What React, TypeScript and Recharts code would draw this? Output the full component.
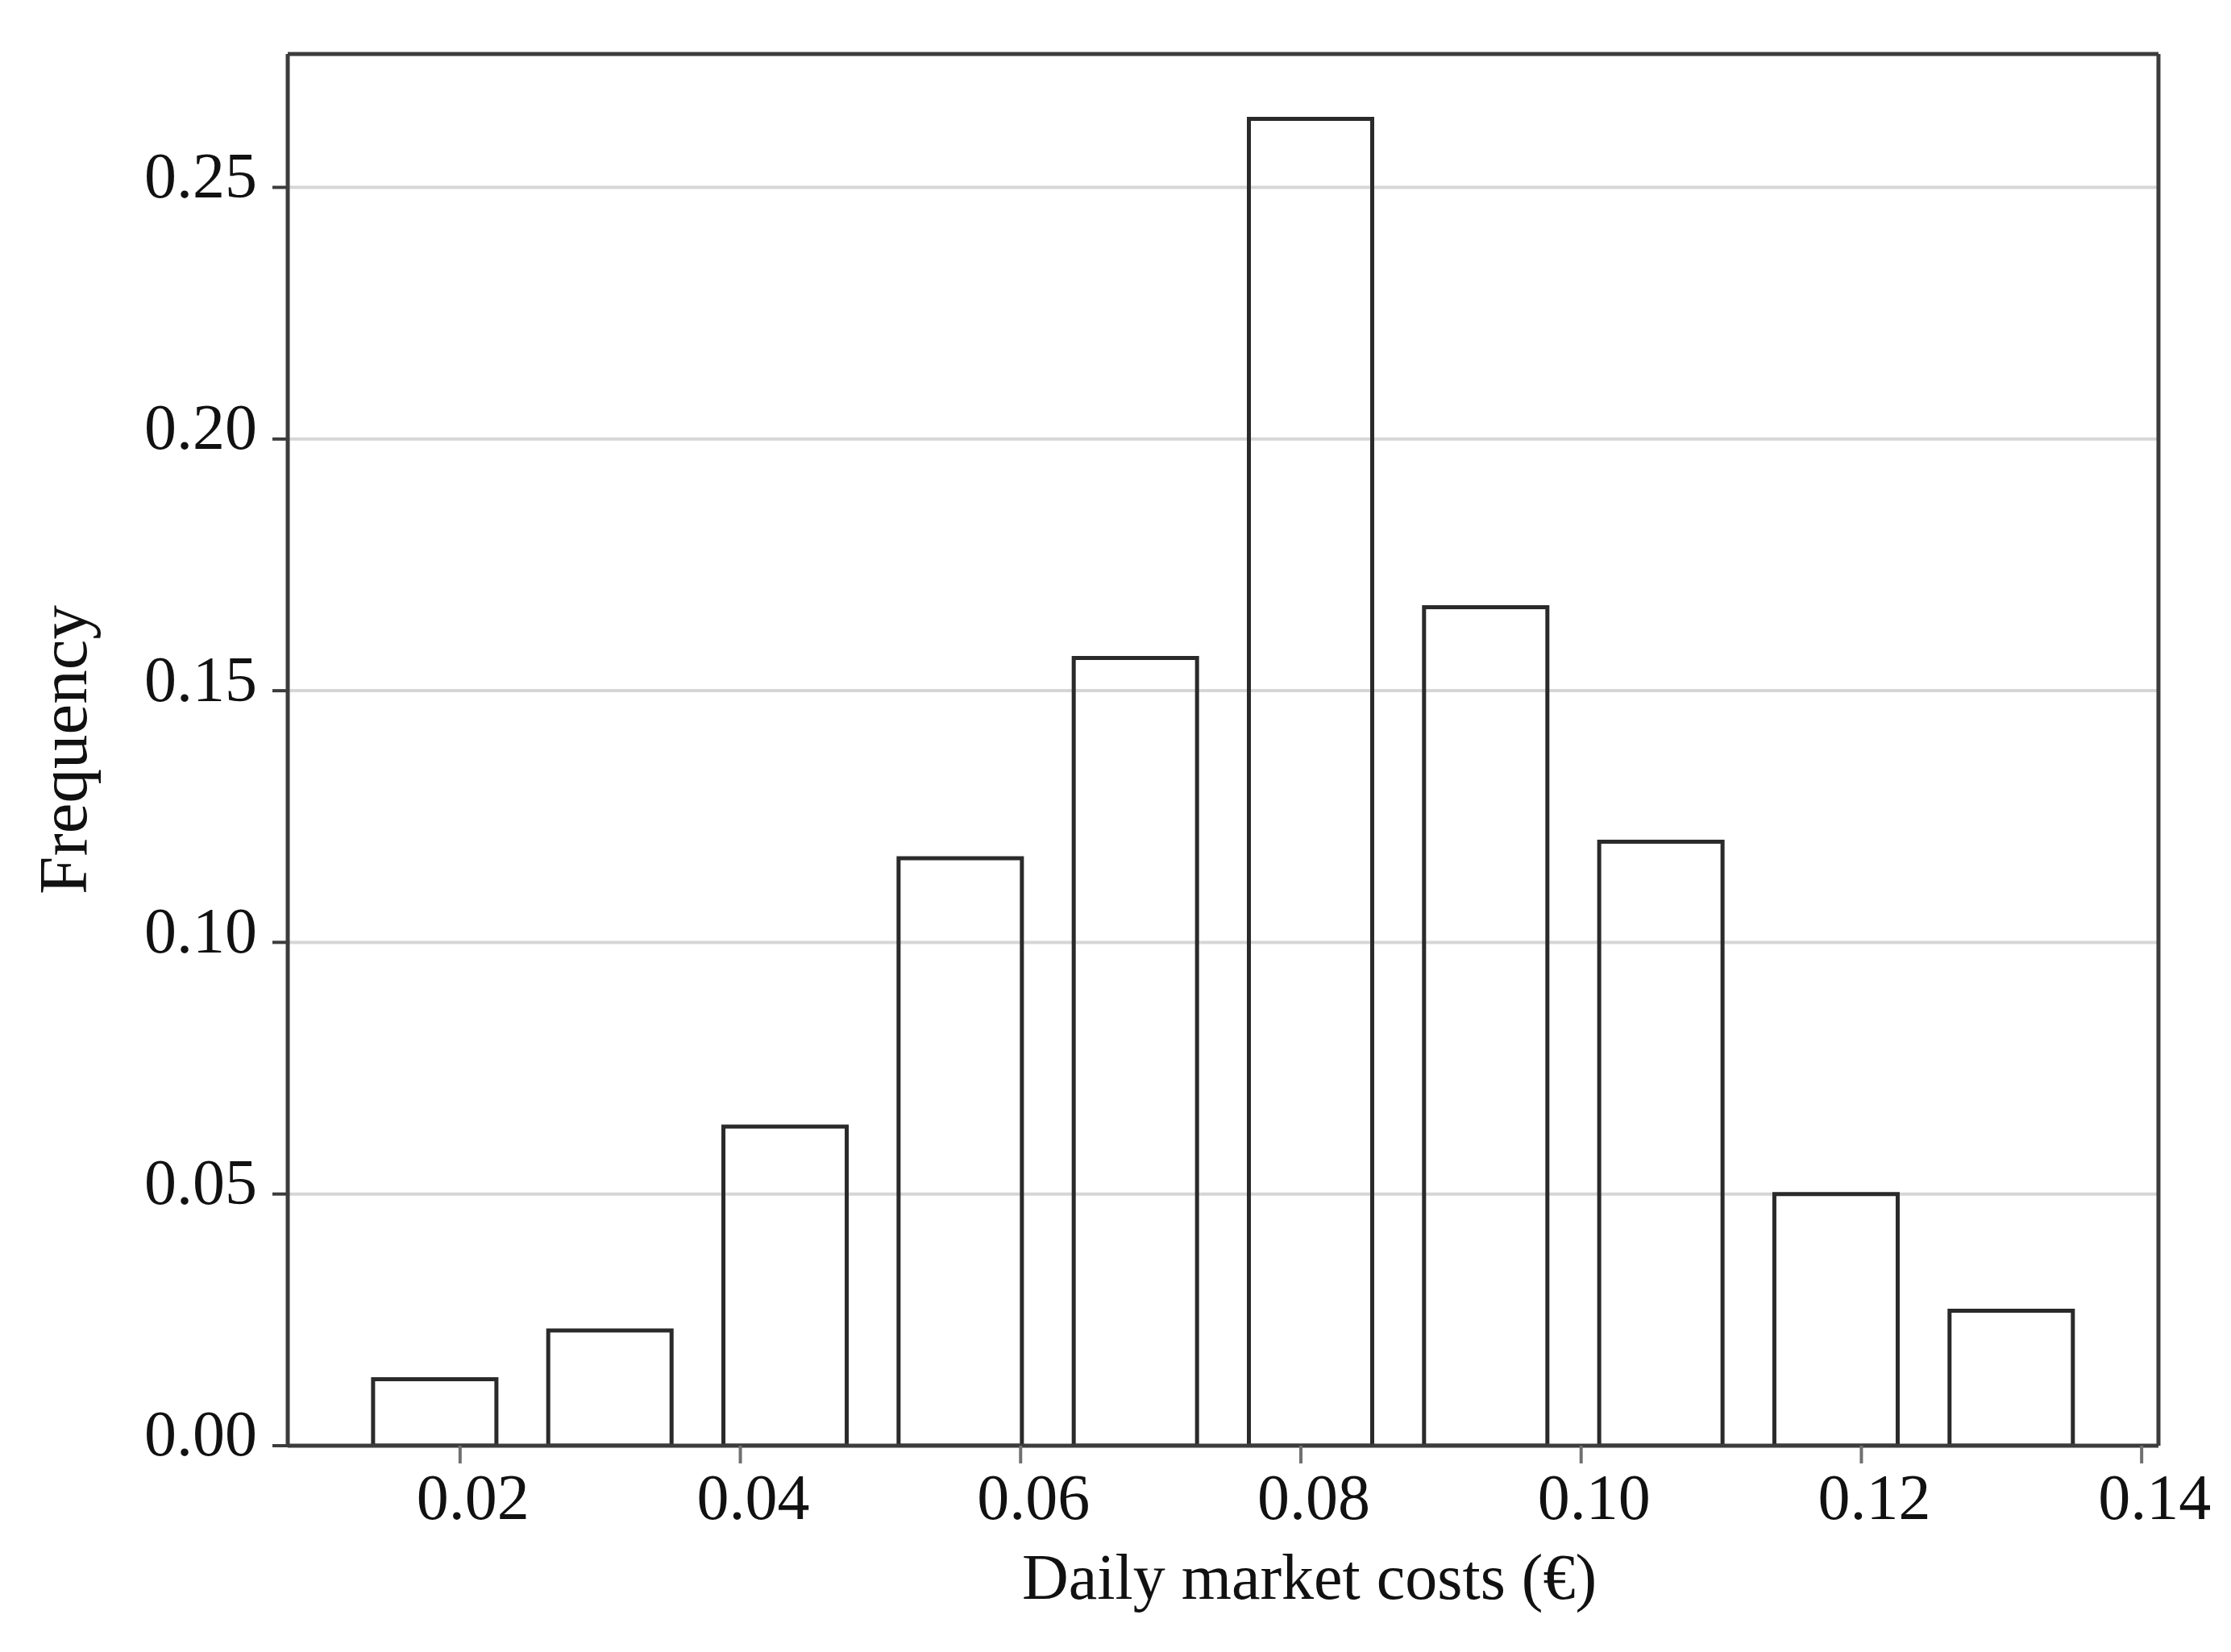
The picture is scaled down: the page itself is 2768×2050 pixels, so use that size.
import { Bar, BarChart, CartesianGrid, Label, ReferenceLine, XAxis, YAxis } from "recharts"

// bin midpoints (€) and relative frequency per bin
const binMids = [0.0182, 0.0307, 0.0432, 0.0557, 0.0682, 0.0807, 0.0932, 0.1057, 0.1182, 0.1307]
const frequencies = [0.0132, 0.0229, 0.0634, 0.1167, 0.1565, 0.2636, 0.1666, 0.12, 0.05, 0.0268]

const xTicks = [0.02, 0.04, 0.06, 0.08, 0.1, 0.12, 0.14]
const yTicks = [0, 0.05, 0.1, 0.15, 0.2, 0.25]
const xDomain = [0.0077, 0.1412]
const yDomain = [0, 0.2765]

const data = binMids.map((mid, i) => ({ mid, freq: frequencies[i] }))

const font = "'Liberation Serif', 'Times New Roman', serif"
const frame = "#3c3c3c"
const tickStyle = { fontFamily: font, fontSize: 80, fill: "#111" }

const App = () => {
    return (
        <div style={{ position: "absolute", left: 0, top: 0, background: "#fff" }}>
            <BarChart
                width={2768}
                height={2050}
                data={data}
                margin={{ top: 67, right: 90, bottom: 0, left: 0 }}
            >
                <CartesianGrid vertical={false} stroke="#d6d6d6" strokeWidth={4} />
                <XAxis
                    dataKey="mid"
                    type="number"
                    domain={xDomain}
                    allowDataOverflow
                    ticks={xTicks}
                    tickFormatter={(v: number) => v.toFixed(2)}
                    height={256}
                    tickSize={22}
                    tickMargin={12}
                    tick={{ ...tickStyle, dx: 16 }}
                    tickLine={{ stroke: "#707070", strokeWidth: 4 }}
                    axisLine={{ stroke: frame, strokeWidth: 5 }}
                >
                    <Label
                        value="Daily market costs (€)"
                        position="insideBottom"
                        offset={66}
                        dx={107}
                        style={{ fontFamily: font, fontSize: 80, fill: "#111" }}
                    />
                </XAxis>
                <YAxis
                    type="number"
                    domain={yDomain}
                    allowDataOverflow
                    ticks={yTicks}
                    tickFormatter={(v: number) => v.toFixed(2)}
                    width={357}
                    tickSize={19}
                    tickMargin={19}
                    tick={{ ...tickStyle, dy: -16 }}
                    tickLine={{ stroke: frame, strokeWidth: 4 }}
                    axisLine={{ stroke: frame, strokeWidth: 5 }}
                >
                    <Label
                        value="Frequency"
                        angle={-90}
                        position="insideLeft"
                        offset={77}
                        style={{ fontFamily: font, fontSize: 85, fill: "#111", textAnchor: "middle" }}
                    />
                </YAxis>
                {/* top and right edges of the frame */}
                <ReferenceLine y={yDomain[1]} stroke={frame} strokeWidth={5} ifOverflow="visible" />
                <ReferenceLine x={xDomain[1]} stroke={frame} strokeWidth={5} ifOverflow="visible" />
                {/* outline-only bars, grid shows through */}
                <Bar
                    dataKey="freq"
                    barSize={153}
                    fill="none"
                    stroke="#2a2a2a"
                    strokeWidth={5}
                    isAnimationActive={false}
                />
            </BarChart>
        </div>
    )
}

export default App
